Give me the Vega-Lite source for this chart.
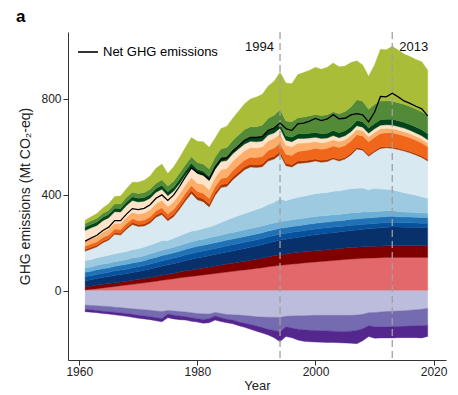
{
  "$schema": "https://vega.github.io/schema/vega-lite/v6.json",
  "width": 378,
  "height": 328,
  "autosize": "none",
  "padding": {"left": 68, "top": 32, "right": 12, "bottom": 35},
  "background": "white",
  "config": {
    "font": "Liberation Sans",
    "view": {"stroke": null},
    "axis": {"domainColor": "#333", "tickColor": "#333", "labelColor": "#222", "titleColor": "#222", "labelFontSize": 12, "titleFontSize": 13, "titleFontWeight": "normal", "grid": false, "tickSize": 5, "labelPadding": 2, "domainWidth": 1}
  },
  "title": {"text": "a", "anchor": "start", "frame": "group", "dx": -52, "offset": 5, "fontSize": 17, "fontWeight": "bold", "color": "black"},
  "datasets": {
    "ghg": [
      {"year":1961,"p01":3,"p02":14,"p03":25,"p04":17,"p05":18,"p06":18,"p07":31,"p08":39,"p09":7,"p10":14,"p11":20,"p12":45,"p13":14,"p14":15,"p15":14,"n01":-59,"n02":-18,"n03":-10,"net":207},
      {"year":1962,"p01":6,"p02":14,"p03":26,"p04":17,"p05":18,"p06":18,"p07":31,"p08":44,"p09":7,"p10":14,"p11":21,"p12":46,"p13":14,"p14":16,"p15":16,"n01":-61,"n02":-18,"n03":-10,"net":219},
      {"year":1963,"p01":9,"p02":15,"p03":27,"p04":18,"p05":19,"p06":18,"p07":32,"p08":45,"p09":7,"p10":14,"p11":22,"p12":46,"p13":14,"p14":16,"p15":20,"n01":-62,"n02":-20,"n03":-9,"net":231},
      {"year":1964,"p01":12,"p02":15,"p03":28,"p04":18,"p05":19,"p06":19,"p07":32,"p08":57,"p09":7,"p10":15,"p11":23,"p12":47,"p13":14,"p14":17,"p15":22,"n01":-64,"n02":-21,"n03":-9,"net":251},
      {"year":1965,"p01":15,"p02":15,"p03":29,"p04":18,"p05":19,"p06":19,"p07":33,"p08":63,"p09":7,"p10":15,"p11":24,"p12":47,"p13":14,"p14":17,"p15":27,"n01":-65,"n02":-22,"n03":-10,"net":265},
      {"year":1966,"p01":18,"p02":16,"p03":30,"p04":19,"p05":19,"p06":19,"p07":33,"p08":81,"p09":7,"p10":15,"p11":24,"p12":48,"p13":15,"p14":18,"p15":30,"n01":-68,"n02":-21,"n03":-11,"net":292},
      {"year":1967,"p01":21,"p02":16,"p03":31,"p04":19,"p05":19,"p06":19,"p07":34,"p08":73,"p09":8,"p10":15,"p11":25,"p12":48,"p13":15,"p14":18,"p15":34,"n01":-70,"n02":-22,"n03":-11,"net":292},
      {"year":1968,"p01":24,"p02":16,"p03":31,"p04":19,"p05":20,"p06":20,"p07":34,"p08":92,"p09":8,"p10":16,"p11":26,"p12":49,"p13":15,"p14":19,"p15":36,"n01":-73,"n02":-21,"n03":-12,"net":319},
      {"year":1969,"p01":27,"p02":17,"p03":32,"p04":20,"p05":20,"p06":20,"p07":35,"p08":105,"p09":8,"p10":16,"p11":27,"p12":49,"p13":15,"p14":19,"p15":42,"n01":-75,"n02":-23,"n03":-12,"net":342},
      {"year":1970,"p01":30,"p02":17,"p03":33,"p04":20,"p05":20,"p06":20,"p07":35,"p08":93,"p09":8,"p10":16,"p11":28,"p12":50,"p13":15,"p14":20,"p15":47,"n01":-77,"n02":-25,"n03":-12,"net":338},
      {"year":1971,"p01":33,"p02":18,"p03":34,"p04":20,"p05":20,"p06":21,"p07":36,"p08":88,"p09":8,"p10":17,"p11":29,"p12":49,"p13":15,"p14":21,"p15":51,"n01":-79,"n02":-26,"n03":-12,"net":343},
      {"year":1972,"p01":37,"p02":19,"p03":35,"p04":21,"p05":21,"p06":21,"p07":37,"p08":91,"p09":9,"p10":17,"p11":29,"p12":48,"p13":16,"p14":22,"p15":55,"n01":-81,"n02":-27,"n03":-12,"net":358},
      {"year":1973,"p01":40,"p02":20,"p03":37,"p04":21,"p05":21,"p06":22,"p07":38,"p08":107,"p09":9,"p10":18,"p11":30,"p12":47,"p13":16,"p14":22,"p15":62,"n01":-84,"n02":-28,"n03":-13,"net":385},
      {"year":1974,"p01":44,"p02":21,"p03":38,"p04":22,"p05":22,"p06":22,"p07":40,"p08":108,"p09":10,"p10":19,"p11":31,"p12":46,"p13":16,"p14":23,"p15":66,"n01":-86,"n02":-29,"n03":-14,"net":399},
      {"year":1975,"p01":47,"p02":22,"p03":39,"p04":22,"p05":22,"p06":23,"p07":34,"p08":82,"p09":10,"p10":19,"p11":31,"p12":45,"p13":16,"p14":24,"p15":52,"n01":-82,"n02":-15,"n03":-15,"net":376},
      {"year":1976,"p01":50,"p02":23,"p03":40,"p04":23,"p05":22,"p06":23,"p07":38,"p08":90,"p09":10,"p10":20,"p11":32,"p12":44,"p13":17,"p14":25,"p15":59,"n01":-84,"n02":-18,"n03":-15,"net":399},
      {"year":1977,"p01":54,"p02":24,"p03":41,"p04":23,"p05":23,"p06":24,"p07":40,"p08":111,"p09":11,"p10":20,"p11":33,"p12":43,"p13":17,"p14":26,"p15":65,"n01":-86,"n02":-19,"n03":-15,"net":435},
      {"year":1978,"p01":57,"p02":26,"p03":43,"p04":24,"p05":23,"p06":24,"p07":42,"p08":136,"p09":11,"p10":21,"p11":34,"p12":42,"p13":17,"p14":26,"p15":71,"n01":-88,"n02":-20,"n03":-14,"net":475},
      {"year":1979,"p01":60,"p02":27,"p03":44,"p04":24,"p05":24,"p06":25,"p07":44,"p08":157,"p09":12,"p10":21,"p11":34,"p12":41,"p13":18,"p14":27,"p15":80,"n01":-91,"n02":-21,"n03":-15,"net":511},
      {"year":1980,"p01":63,"p02":28,"p03":45,"p04":25,"p05":24,"p06":25,"p07":42,"p08":127,"p09":12,"p10":22,"p11":35,"p12":40,"p13":18,"p14":28,"p15":88,"n01":-94,"n02":-22,"n03":-14,"net":492},
      {"year":1981,"p01":66,"p02":29,"p03":46,"p04":25,"p05":24,"p06":25,"p07":44,"p08":112,"p09":12,"p10":23,"p11":36,"p12":38,"p13":18,"p14":30,"p15":92,"n01":-96,"n02":-23,"n03":-16,"net":485},
      {"year":1982,"p01":69,"p02":30,"p03":47,"p04":25,"p05":24,"p06":26,"p07":44,"p08":84,"p09":12,"p10":24,"p11":36,"p12":37,"p13":18,"p14":31,"p15":90,"n01":-97,"n02":-19,"n03":-17,"net":464},
      {"year":1983,"p01":72,"p02":31,"p03":48,"p04":25,"p05":24,"p06":26,"p07":48,"p08":123,"p09":12,"p10":24,"p11":37,"p12":35,"p13":18,"p14":33,"p15":79,"n01":-90,"n02":-15,"n03":-17,"net":513},
      {"year":1984,"p01":75,"p02":32,"p03":49,"p04":25,"p05":24,"p06":26,"p07":53,"p08":146,"p09":12,"p10":25,"p11":37,"p12":34,"p13":18,"p14":35,"p15":84,"n01":-94,"n02":-18,"n03":-16,"net":547},
      {"year":1985,"p01":78,"p02":33,"p03":50,"p04":26,"p05":24,"p06":27,"p07":57,"p08":139,"p09":12,"p10":26,"p11":38,"p12":32,"p13":18,"p14":36,"p15":89,"n01":-99,"n02":-19,"n03":-15,"net":552},
      {"year":1986,"p01":81,"p02":34,"p03":51,"p04":26,"p05":24,"p06":27,"p07":61,"p08":158,"p09":12,"p10":27,"p11":38,"p12":31,"p13":18,"p14":38,"p15":92,"n01":-100,"n02":-22,"n03":-15,"net":581},
      {"year":1987,"p01":84,"p02":35,"p03":52,"p04":26,"p05":24,"p06":27,"p07":65,"p08":170,"p09":12,"p10":28,"p11":39,"p12":29,"p13":18,"p14":40,"p15":99,"n01":-101,"n02":-29,"n03":-15,"net":603},
      {"year":1988,"p01":87,"p02":36,"p03":53,"p04":26,"p05":24,"p06":28,"p07":68,"p08":182,"p09":12,"p10":28,"p11":39,"p12":28,"p13":18,"p14":42,"p15":107,"n01":-103,"n02":-32,"n03":-17,"net":626},
      {"year":1989,"p01":90,"p02":37,"p03":54,"p04":26,"p05":24,"p06":28,"p07":71,"p08":185,"p09":12,"p10":29,"p11":40,"p12":26,"p13":18,"p14":43,"p15":115,"n01":-105,"n02":-35,"n03":-20,"net":638},
      {"year":1990,"p01":93,"p02":38,"p03":55,"p04":26,"p05":24,"p06":28,"p07":74,"p08":175,"p09":12,"p10":30,"p11":40,"p12":25,"p13":18,"p14":45,"p15":123,"n01":-108,"n02":-39,"n03":-21,"net":638},
      {"year":1991,"p01":96,"p02":40,"p03":56,"p04":26,"p05":24,"p06":28,"p07":77,"p08":169,"p09":12,"p10":31,"p11":40,"p12":24,"p13":18,"p14":49,"p15":128,"n01":-109,"n02":-44,"n03":-23,"net":642},
      {"year":1992,"p01":100,"p02":42,"p03":57,"p04":26,"p05":24,"p06":28,"p07":82,"p08":181,"p09":12,"p10":32,"p11":40,"p12":24,"p13":18,"p14":52,"p15":134,"n01":-110,"n02":-50,"n03":-24,"net":668},
      {"year":1993,"p01":103,"p02":43,"p03":59,"p04":25,"p05":24,"p06":28,"p07":86,"p08":180,"p09":12,"p10":34,"p11":40,"p12":23,"p13":18,"p14":56,"p15":141,"n01":-110,"n02":-55,"n03":-30,"net":677},
      {"year":1994,"p01":106,"p02":45,"p03":60,"p04":25,"p05":24,"p06":28,"p07":95,"p08":184,"p09":12,"p10":35,"p11":40,"p12":22,"p13":18,"p14":60,"p15":156,"n01":-111,"n02":-59,"n03":-42,"net":698},
      {"year":1995,"p01":108,"p02":45,"p03":61,"p04":25,"p05":24,"p06":28,"p07":84,"p08":145,"p09":11,"p10":37,"p11":38,"p12":21,"p13":18,"p14":62,"p15":158,"n01":-106,"n02":-44,"n03":-40,"net":675},
      {"year":1996,"p01":111,"p02":46,"p03":62,"p04":25,"p05":24,"p06":28,"p07":86,"p08":133,"p09":10,"p10":38,"p11":36,"p12":21,"p13":19,"p14":65,"p15":158,"n01":-105,"n02":-50,"n03":-40,"net":667},
      {"year":1997,"p01":113,"p02":46,"p03":63,"p04":25,"p05":24,"p06":28,"p07":90,"p08":141,"p09":10,"p10":40,"p11":34,"p12":20,"p13":19,"p14":67,"p15":180,"n01":-104,"n02":-56,"n03":-45,"net":695},
      {"year":1998,"p01":116,"p02":46,"p03":64,"p04":24,"p05":24,"p06":28,"p07":91,"p08":139,"p09":9,"p10":42,"p11":32,"p12":19,"p13":19,"p14":70,"p15":185,"n01":-104,"n02":-58,"n03":-48,"net":698},
      {"year":1999,"p01":118,"p02":47,"p03":65,"p04":24,"p05":24,"p06":28,"p07":93,"p08":136,"p09":9,"p10":43,"p11":30,"p12":19,"p13":20,"p14":72,"p15":190,"n01":-103,"n02":-61,"n03":-48,"net":706},
      {"year":2000,"p01":120,"p02":47,"p03":66,"p04":24,"p05":24,"p06":28,"p07":95,"p08":136,"p09":8,"p10":45,"p11":28,"p12":18,"p13":20,"p14":75,"p15":196,"n01":-102,"n02":-63,"n03":-48,"net":717},
      {"year":2001,"p01":122,"p02":47,"p03":67,"p04":24,"p05":24,"p06":28,"p07":95,"p08":128,"p09":8,"p10":46,"p11":27,"p12":18,"p13":20,"p14":76,"p15":192,"n01":-102,"n02":-64,"n03":-48,"net":708},
      {"year":2002,"p01":124,"p02":47,"p03":68,"p04":23,"p05":24,"p06":27,"p07":96,"p08":129,"p09":8,"p10":47,"p11":26,"p12":17,"p13":20,"p14":77,"p15":197,"n01":-102,"n02":-65,"n03":-48,"net":715},
      {"year":2003,"p01":126,"p02":48,"p03":68,"p04":23,"p05":24,"p06":27,"p07":98,"p08":134,"p09":7,"p10":48,"p11":26,"p12":17,"p13":21,"p14":78,"p15":203,"n01":-102,"n02":-66,"n03":-47,"net":733},
      {"year":2004,"p01":128,"p02":48,"p03":69,"p04":22,"p05":24,"p06":27,"p07":98,"p08":124,"p09":7,"p10":49,"p11":25,"p12":16,"p13":21,"p14":79,"p15":195,"n01":-102,"n02":-67,"n03":-47,"net":716},
      {"year":2005,"p01":130,"p02":48,"p03":70,"p04":22,"p05":24,"p06":27,"p07":99,"p08":128,"p09":7,"p10":50,"p11":24,"p12":16,"p13":21,"p14":80,"p15":189,"n01":-102,"n02":-68,"n03":-47,"net":718},
      {"year":2006,"p01":132,"p02":48,"p03":71,"p04":22,"p05":25,"p06":26,"p07":101,"p08":140,"p09":7,"p10":51,"p11":23,"p12":16,"p13":21,"p14":82,"p15":185,"n01":-102,"n02":-66,"n03":-50,"net":732},
      {"year":2007,"p01":133,"p02":48,"p03":72,"p04":21,"p05":25,"p06":26,"p07":102,"p08":163,"p09":7,"p10":52,"p11":22,"p12":16,"p13":22,"p14":86,"p15":162,"n01":-101,"n02":-64,"n03":-55,"net":737},
      {"year":2008,"p01":135,"p02":48,"p03":73,"p04":21,"p05":25,"p06":26,"p07":100,"p08":157,"p09":6,"p10":53,"p11":22,"p12":15,"p13":22,"p14":86,"p15":151,"n01":-98,"n02":-60,"n03":-50,"net":732},
      {"year":2009,"p01":136,"p02":48,"p03":74,"p04":20,"p05":25,"p06":25,"p07":93,"p08":139,"p09":6,"p10":54,"p11":21,"p12":15,"p13":22,"p14":78,"p15":137,"n01":-91,"n02":-54,"n03":-45,"net":703},
      {"year":2010,"p01":137,"p02":48,"p03":75,"p04":20,"p05":25,"p06":25,"p07":97,"p08":151,"p09":6,"p10":55,"p11":20,"p12":15,"p13":22,"p14":80,"p15":164,"n01":-90,"n02":-60,"n03":-47,"net":743},
      {"year":2011,"p01":138,"p02":48,"p03":76,"p04":20,"p05":25,"p06":24,"p07":93,"p08":168,"p09":6,"p10":57,"p11":19,"p12":15,"p13":23,"p14":78,"p15":215,"n01":-88,"n02":-62,"n03":-46,"net":809},
      {"year":2012,"p01":139,"p02":48,"p03":77,"p04":20,"p05":25,"p06":24,"p07":90,"p08":172,"p09":5,"p10":58,"p11":18,"p12":15,"p13":23,"p14":77,"p15":212,"n01":-86,"n02":-64,"n03":-46,"net":807},
      {"year":2013,"p01":139,"p02":48,"p03":78,"p04":20,"p05":25,"p06":23,"p07":87,"p08":173,"p09":5,"p10":60,"p11":17,"p12":15,"p13":24,"p14":75,"p15":229,"n01":-85,"n02":-65,"n03":-46,"net":822},
      {"year":2014,"p01":139,"p02":48,"p03":78,"p04":19,"p05":24,"p06":22,"p07":84,"p08":174,"p09":5,"p10":59,"p11":17,"p12":15,"p13":24,"p14":75,"p15":219,"n01":-84,"n02":-65,"n03":-46,"net":807},
      {"year":2015,"p01":139,"p02":48,"p03":77,"p04":19,"p05":24,"p06":21,"p07":80,"p08":174,"p09":5,"p10":58,"p11":17,"p12":15,"p13":24,"p14":75,"p15":209,"n01":-83,"n02":-65,"n03":-47,"net":790},
      {"year":2016,"p01":139,"p02":48,"p03":77,"p04":19,"p05":24,"p06":20,"p07":76,"p08":171,"p09":6,"p10":57,"p11":17,"p12":14,"p13":24,"p14":75,"p15":208,"n01":-81,"n02":-66,"n03":-48,"net":780},
      {"year":2017,"p01":139,"p02":48,"p03":77,"p04":18,"p05":24,"p06":20,"p07":72,"p08":167,"p09":6,"p10":56,"p11":16,"p12":14,"p13":25,"p14":75,"p15":206,"n01":-79,"n02":-67,"n03":-49,"net":768},
      {"year":2018,"p01":139,"p02":48,"p03":76,"p04":18,"p05":24,"p06":19,"p07":67,"p08":164,"p09":6,"p10":54,"p11":16,"p12":14,"p13":25,"p14":75,"p15":208,"n01":-77,"n02":-68,"n03":-51,"net":757},
      {"year":2019,"p01":139,"p02":48,"p03":76,"p04":18,"p05":24,"p06":18,"p07":62,"p08":155,"p09":6,"p10":53,"p11":16,"p12":14,"p13":25,"p14":75,"p15":189,"n01":-73,"n02":-70,"n03":-47,"net":728}
    ]
  },
  "layer": [
    {
      "data": {"name": "ghg"},
      "transform": [{"fold": ["p01","p02","p03","p04","p05","p06","p07","p08","p09","p10","p11","p12","p13","p14","p15","n01","n02","n03"], "as": ["layer", "value"]}],
      "mark": {"type": "area", "interpolate": "linear", "strokeWidth": 0.4},
      "encoding": {
        "x": {"field": "year", "type": "quantitative", "scale": {"domain": [1958.1, 2022.1], "nice": false, "zero": false}, "axis": {"values": [1960, 1980, 2000, 2020], "format": "d", "title": "Year", "labelPadding": 1, "titlePadding": 2}},
        "y": {"field": "value", "type": "quantitative", "stack": "zero", "scale": {"domain": [-288, 1077], "nice": false, "zero": false}, "axis": {"values": [0, 400, 800], "title": "GHG emissions (Mt CO₂-eq)", "titlePadding": 8, "titleFontSize": 14}},
        "color": {"field": "layer", "type": "nominal", "legend": null, "scale": {"domain": ["p01","p02","p03","p04","p05","p06","p07","p08","p09","p10","p11","p12","p13","p14","p15","n01","n02","n03"], "range": ["#e3686b","#800000","#08306b","#08519c","#2171b5","#6baed6","#9ecae1","#d8e9f1","#a63603","#f0661a","#fdae6b","#fee3c8","#00441b","#538a37","#a9bd38","#bcbddc","#756bb1","#54278f"]}},
        "stroke": {"field": "layer", "type": "nominal", "legend": null, "scale": {"domain": ["p01","p02","p03","p04","p05","p06","p07","p08","p09","p10","p11","p12","p13","p14","p15","n01","n02","n03"], "range": ["#e3686b","#800000","#08306b","#08519c","#2171b5","#6baed6","#9ecae1","#d8e9f1","#a63603","#f0661a","#fdae6b","#fee3c8","#00441b","#538a37","#a9bd38","#bcbddc","#756bb1","#54278f"]}},
        "order": {"field": "layer", "sort": "ascending"}
      }
    },
    {
      "data": {"values": [{"year": 1994}, {"year": 2013}]},
      "mark": {"type": "rule", "color": "#a0a0a0", "strokeDash": [7, 4], "strokeWidth": 1.3},
      "encoding": {"x": {"field": "year", "type": "quantitative"}}
    },
    {
      "data": {"name": "ghg"},
      "mark": {"type": "line", "strokeWidth": 1.3},
      "encoding": {
        "x": {"field": "year", "type": "quantitative"},
        "y": {"field": "net", "type": "quantitative"},
        "color": {"datum": "Net GHG emissions", "type": "nominal", "scale": {"range": ["black"]}, "legend": {"orient": "top-left", "title": null, "symbolType": "stroke", "symbolSize": 400, "symbolStrokeWidth": 1.6, "labelFontSize": 13, "labelColor": "black", "offset": 9}}
      }
    },
    {
      "data": {"values": [{"year": 1994, "label": "1994"}]},
      "mark": {"type": "text", "align": "right", "baseline": "middle", "dx": -6, "fontSize": 13, "color": "#111"},
      "encoding": {"x": {"field": "year", "type": "quantitative"}, "y": {"datum": 1013, "type": "quantitative"}, "text": {"field": "label"}}
    },
    {
      "data": {"values": [{"year": 2013, "label": "2013"}]},
      "mark": {"type": "text", "align": "left", "baseline": "middle", "dx": 7, "fontSize": 13, "color": "#111"},
      "encoding": {"x": {"field": "year", "type": "quantitative"}, "y": {"datum": 1013, "type": "quantitative"}, "text": {"field": "label"}}
    }
  ],
  "resolve": {"scale": {"color": "independent", "stroke": "independent"}}
}
